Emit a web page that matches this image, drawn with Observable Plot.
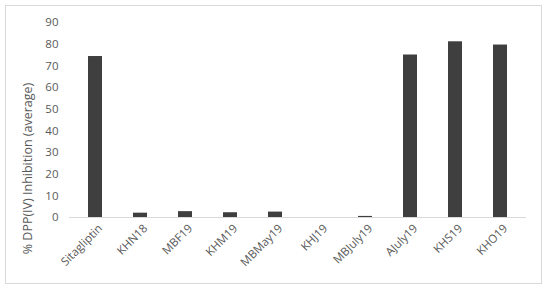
<!DOCTYPE html>
<html><head><meta charset="utf-8">
<script src="https://cdn.jsdelivr.net/npm/d3@7"></script>
<script src="https://cdn.jsdelivr.net/npm/@observablehq/plot@0.6"></script>
<style>
body{margin:0;background:#fff;}
#wrap{position:relative;width:550px;height:292px;}
#frame{position:absolute;left:5px;top:5px;width:535px;height:277px;border:1px solid #d9d9d9;pointer-events:none;}
</style>
</head><body>
<div id="wrap"><div id="frame"></div></div>
<script>
const categories = ["Sitagliptin","KHN18","MBF19","KHM19","MBMay19","KHJ19","MBJuly19","AJuly19","KHS19","KHO19"];
const values = [74.3, 2.0, 2.7, 2.2, 2.5, 0, 0.5, 75.0, 81.1, 79.6];
const yTicks = [0,10,20,30,40,50,60,70,80,90];
const data = categories.map((c,i)=>({c, v: values[i]}));

const chart = Plot.plot({
  width: 550, height: 292,
  marginLeft: 69, marginRight: 24, marginTop: 22, marginBottom: 75,
  style: {fontFamily: "'Open Sans', sans-serif", fontSize: "11px", color: "#595959", background: "transparent"},
  x: {domain: categories, paddingInner: 0.69, paddingOuter: 0.345, align: 0.5, label: null},
  y: {domain: [0, 90], label: null},
  marks: [
    Plot.ruleY([0], {stroke: "#d9d9d9", strokeWidth: 1}),
    Plot.barY(data, {x: "c", y: "v", fill: "#3f3f3f"}),
    Plot.axisY({ticks: yTicks, tickSize: 0, tickPadding: 11, fill: "#595959", fontSize: 11.5}),
    Plot.axisX({tickSize: 0, tickPadding: 9, dx: 5, tickRotate: -45, fill: "#595959", fontSize: 11.5}),
    Plot.text(["% DPP(IV) Inhibition (average)"], {frameAnchor: "bottom-left", textAnchor: "middle", dx: -38, dy: -49, rotate: -90, fill: "#595959", fontSize: 12.5})
  ]
});
document.getElementById("wrap").prepend(chart);
</script>
</body></html>
